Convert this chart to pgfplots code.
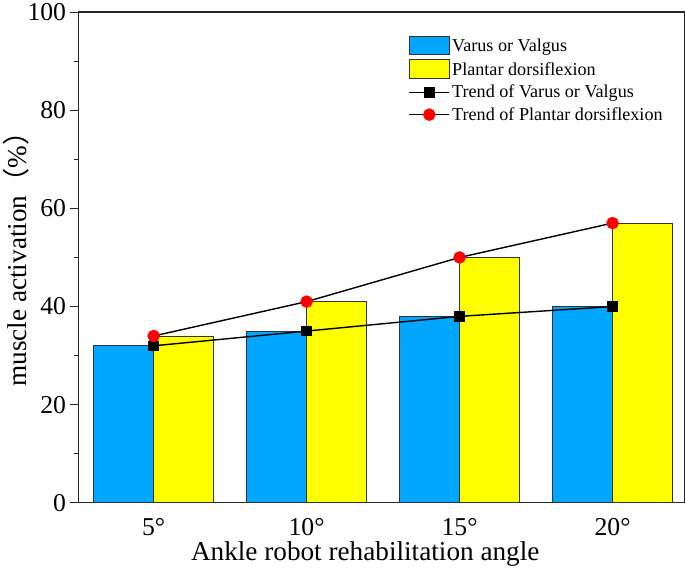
\documentclass[border=0pt]{standalone}
\usepackage{fontspec}
\setmainfont{Liberation Serif}
\newfontfamily\cjk{Noto Sans CJK SC}
\usepackage{pgfplots}
\pgfplotsset{compat=1.18}
\definecolor{barblue}{RGB}{0,166,255}
\definecolor{baryellow}{RGB}{255,255,0}
\pgfplotsset{
  barleg/.style={legend image code/.code={\draw[##1] (0pt,-8pt) rectangle (40pt,10pt);}},
  lineleg/.style={legend image code/.code={\draw[##1, mark repeat=2, mark phase=2] plot coordinates {(0pt,0pt) (20pt,0pt) (40pt,0pt)};}},
}
\begin{document}
\begin{tikzpicture}
\begin{axis}[
  scale only axis,
  width=601pt, height=487pt,
  xmin=-0.49, xmax=3.47,
  ymin=0, ymax=100,
  xtick={0,1,2,3},
  xticklabels={5°,10°,15°,20°},
  x tick style={draw=none},
  ytick={0,20,40,60,80,100},
  minor y tick num=1,
  ytick pos=left,
  tick align=outside,
  major tick length=9pt,
  minor tick length=5pt,
  axis line style={line width=1.1pt, black!85},
  every tick/.style={line width=1pt, black!85},
  /pgf/number format/assume math mode=true,
  tick label style={font=\fontsize{25.5}{28}\selectfont},
  xticklabel style={yshift=-3pt},
  xlabel={Ankle robot rehabilitation angle},
  ylabel={muscle activation{\cjk （}\%{\cjk ）}},
  label style={font=\fontsize{27}{30}\selectfont},
  xlabel style={at={(axis description cs:0.473,-0.105)}, anchor=center},
  ylabel style={at={(axis description cs:-0.103,0.51)}, anchor=center},
  legend style={draw=none, fill=none, at={(axis description cs:0.544,0.952)}, anchor=north west,
    font=\fontsize{18}{20}\selectfont, row sep=4pt, inner sep=0pt},
  legend cell align=left,
  clip=false,
]
\addplot[ybar, bar width=0.393, bar shift=-0.197, fill=barblue, draw=black!80, line width=0.9pt, barleg]
  coordinates {(0,32) (1,35) (2,38) (3,40)};
\addlegendentry{Varus or Valgus}
\addplot[ybar, bar width=0.393, bar shift=0.197, fill=baryellow, draw=black!80, line width=0.9pt, barleg]
  coordinates {(0,34) (1,41) (2,50) (3,57)};
\addlegendentry{Plantar dorsiflexion}
\addplot[black, line width=1.4pt, mark=square*, mark size=4.5pt, mark options={fill=black}, lineleg]
  coordinates {(0,32) (1,35) (2,38) (3,40)};
\addlegendentry{Trend of Varus or Valgus}
\addplot[black, line width=1.4pt, mark=*, mark size=5.5pt, mark options={fill=red, draw=red}, lineleg]
  coordinates {(0,34) (1,41) (2,50) (3,57)};
\addlegendentry{Trend of Plantar dorsiflexion}
\end{axis}
\end{tikzpicture}
\end{document}
